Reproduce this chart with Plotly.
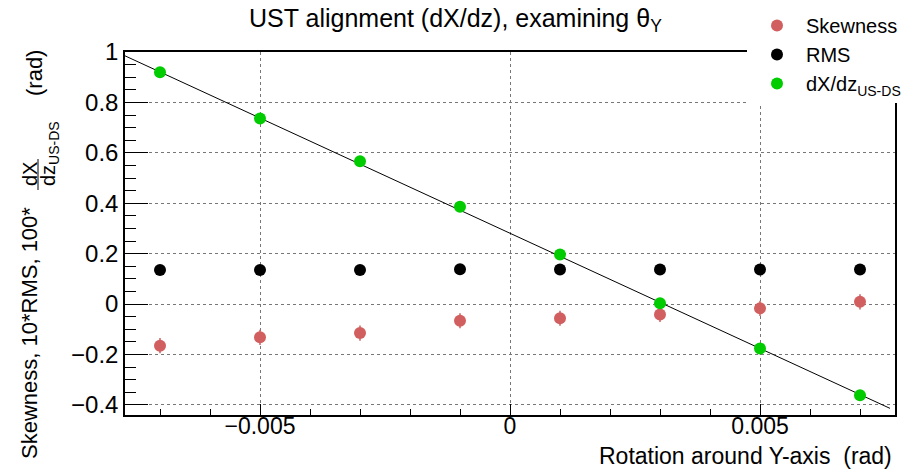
import plotly.graph_objects as go

# Rotation angle around the Y axis (rad)
rotation = [-0.007, -0.005, -0.003, -0.001, 0.001, 0.003, 0.005, 0.007]

# Measured quantities at each rotation
skewness = [-0.165, -0.132, -0.115, -0.066, -0.056, -0.041, -0.017, 0.009]
skewness_err = [0.03, 0.03, 0.03, 0.03, 0.03, 0.03, 0.03, 0.03]
rms10 = [0.135, 0.135, 0.135, 0.138, 0.137, 0.137, 0.137, 0.137]
dxdz100 = [0.920, 0.736, 0.567, 0.386, 0.197, 0.003, -0.176, -0.362]

# Straight-line fit to dX/dz
fit_slope = -91.4
fit_intercept = 0.281
fit_range = [-0.0077, 0.0076]

# Axes
x_range = [-0.0077, 0.0077]
y_range = [-0.44, 1.0]
x_tickvals = [-0.005, 0.0, 0.005]
x_ticktext = ["\u22120.005", "0", "0.005"]
y_tickvals = [-0.4, -0.2, 0.0, 0.2, 0.4, 0.6, 0.8, 1.0]
y_ticktext = ["\u22120.4", "\u22120.2", "0", "0.2", "0.4", "0.6", "0.8", "1"]

FONT = "Liberation Sans, Arial, Helvetica, sans-serif"
W, H = 912, 473
L, R, T, B = 125, 17, 52, 58


def px_x(p):
    return (p - L) / (W - L - R)


def px_y(p):
    return (H - B - p) / (H - T - B)


fig = go.Figure()

fit_y = [fit_slope * x + fit_intercept for x in fit_range]
fig.add_trace(go.Scatter(x=fit_range, y=fit_y, mode="lines",
                         line=dict(color="black", width=1), showlegend=False,
                         hoverinfo="skip"))

fig.add_trace(go.Scatter(
    x=rotation, y=skewness, mode="markers", name="Skewness",
    marker=dict(color="#d25f5f", size=12),
    error_y=dict(type="data", array=skewness_err, color="#d25f5f",
                 thickness=1.5, width=0)))
fig.add_trace(go.Scatter(
    x=rotation, y=rms10, mode="markers", name="RMS",
    marker=dict(color="black", size=12)))
fig.add_trace(go.Scatter(
    x=rotation, y=dxdz100, mode="markers", name="dX/dz<sub>US-DS</sub>",
    marker=dict(color="#00cc00", size=12)))

fig.update_xaxes(
    range=x_range, tickvals=x_tickvals, ticktext=x_ticktext,
    ticks="inside", ticklen=11, tickwidth=1, tickcolor="black",
    showline=True, linecolor="black", linewidth=1.5, mirror=True,
    showgrid=True, gridcolor="#777777", griddash="dot", gridwidth=1,
    zeroline=False, ticklabelstandoff=-10,
    tickfont=dict(family=FONT, size=23, color="black"),
    minor=dict(dtick=0.001, tick0=0, ticks="inside", ticklen=6,
               tickcolor="black", showgrid=False),
)
fig.update_yaxes(
    range=y_range, tickvals=y_tickvals, ticktext=y_ticktext,
    ticks="inside", ticklen=23, tickwidth=1, tickcolor="black",
    showline=True, linecolor="black", linewidth=1.5, mirror=True,
    showgrid=True, gridcolor="#777777", griddash="dot", gridwidth=1,
    zeroline=False, ticklabelstandoff=0,
    tickfont=dict(family=FONT, size=24, color="black"),
    minor=dict(dtick=0.05, tick0=0, ticks="inside", ticklen=11,
               tickcolor="black", showgrid=False),
)

annotations = [
    dict(text="UST alignment (dX/dz), examining \u03b8<sub>Y</sub>",
         x=px_x(455), y=px_y(20), font=dict(size=25)),
    dict(text="Rotation around Y-axis\u00a0\u00a0(rad)",
         x=px_x(894), y=px_y(456), xanchor="right", font=dict(size=23)),
    dict(text="Skewness, 10*RMS, 100*", textangle=-90,
         x=px_x(29), y=px_y(333), font=dict(size=22)),
    dict(text="dX", textangle=-90, x=px_x(30), y=px_y(174),
         font=dict(size=20)),
    dict(text="dz<sub>US-DS</sub>", textangle=-90, x=px_x(49),
         y=px_y(154), font=dict(size=20)),
    dict(text="(rad)", textangle=-90, x=px_x(34), y=px_y(73),
         font=dict(size=22)),
]
for a in annotations:
    a.setdefault("xanchor", "center")
    a.setdefault("yanchor", "middle")
    a["font"].update(family=FONT, color="black")
    fig.add_annotation(xref="paper", yref="paper", showarrow=False, **a)

# Fraction bar in the y title, and the opaque legend box
fig.add_shape(type="line", xref="paper", yref="paper",
              x0=px_x(38), x1=px_x(38), y0=px_y(159), y1=px_y(190),
              line=dict(color="black", width=1))
fig.add_shape(type="rect", xref="paper", yref="paper", layer="above",
              x0=px_x(747), x1=px_x(913), y0=px_y(97), y1=px_y(-1),
              fillcolor="white", line=dict(width=0))

fig.update_layout(
    width=W, height=H,
    margin=dict(l=L, r=R, t=T, b=B, pad=0, autoexpand=False),
    paper_bgcolor="white", plot_bgcolor="white",
    font=dict(family=FONT, color="black"),
    legend=dict(x=748 / W, y=1 - 6 / H, xref="container", yref="container",
                xanchor="left", yanchor="top",
                bgcolor="white", borderwidth=0, itemwidth=48,
                font=dict(family=FONT, size=20, color="black"),
                itemsizing="trace"),
)

fig.write_html("out.html")
